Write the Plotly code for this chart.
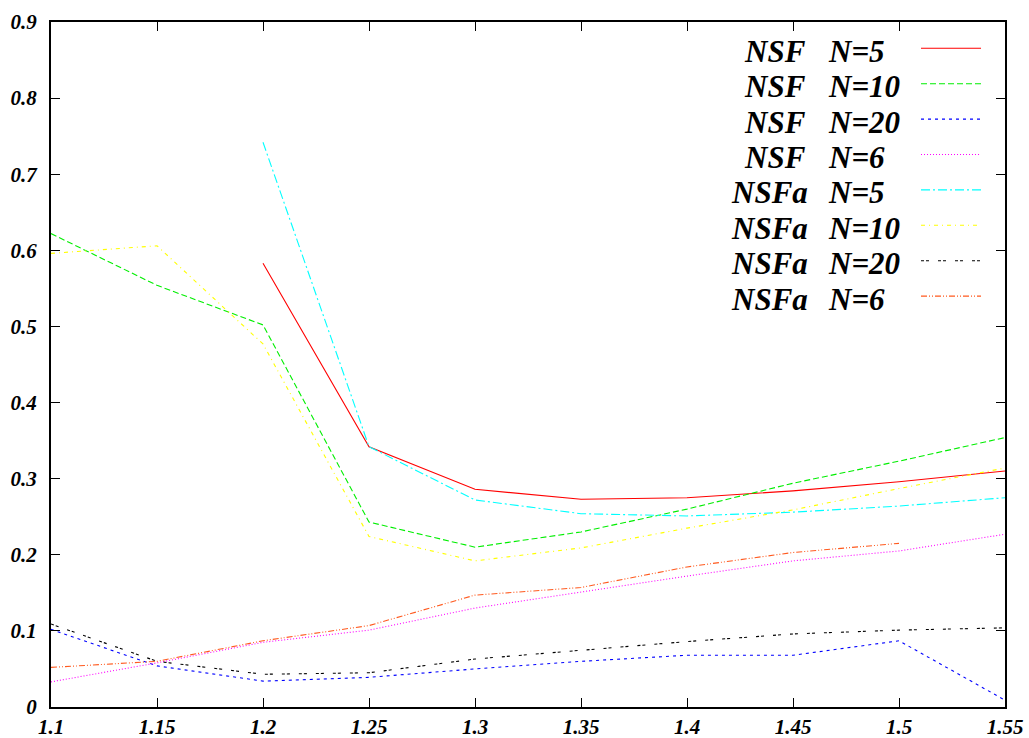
import plotly.graph_objects as go

# Shared abscissa for all curves
x_vals = [1.1, 1.15, 1.2, 1.25, 1.3, 1.35, 1.4, 1.45, 1.5, 1.55]

# NSF results
nsf_n5 = [None, None, 0.583, 0.342, 0.286, 0.273, 0.275, 0.284, 0.296, 0.310]
nsf_n10 = [0.622, 0.554, 0.502, 0.243, 0.210, 0.230, 0.260, 0.294, 0.323, 0.354]
nsf_n20 = [0.102, 0.054, 0.034, 0.039, 0.050, 0.060, 0.068, 0.068, 0.087, 0.009]
nsf_n6 = [0.033, 0.058, 0.085, 0.101, 0.130, 0.151, 0.172, 0.192, 0.205, 0.227]

# NSFa results
nsfa_n5 = [None, None, 0.742, 0.342, 0.272, 0.254, 0.251, 0.256, 0.264, 0.275]
nsfa_n10 = [0.596, 0.606, 0.477, 0.224, 0.192, 0.209, 0.235, 0.259, 0.287, 0.314]
nsfa_n20 = [0.109, 0.060, 0.043, 0.045, 0.063, 0.075, 0.086, 0.096, 0.101, 0.104]
nsfa_n6 = [0.052, 0.060, 0.087, 0.107, 0.147, 0.157, 0.184, 0.203, 0.215, None]

method_labels = ["NSF", "NSF", "NSF", "NSF", "NSFa", "NSFa", "NSFa", "NSFa"]
n_labels = ["N=5", "N=10", "N=20", "N=6", "N=5", "N=10", "N=20", "N=6"]

x_ticks = [1.1, 1.15, 1.2, 1.25, 1.3, 1.35, 1.4, 1.45, 1.5, 1.55]
x_tick_text = ["1.1", "1.15", "1.2", "1.25", "1.3", "1.35", "1.4", "1.45", "1.5", "1.55"]
y_ticks = [0, 0.1, 0.2, 0.3, 0.4, 0.5, 0.6, 0.7, 0.8, 0.9]
y_tick_text = ["0", "0.1", "0.2", "0.3", "0.4", "0.5", "0.6", "0.7", "0.8", "0.9"]

series = [nsf_n5, nsf_n10, nsf_n20, nsf_n6, nsfa_n5, nsfa_n10, nsfa_n20, nsfa_n6]
colors = ["#ff0000", "#00ee00", "#0000ff", "#ff00ff",
          "#00ffff", "#ffff00", "#000000", "#ff5a1f"]
dashes = ["solid", "6px,3px", "3px,4px", "1px,2px",
          "9px,3px,2px,3px", "4px,4px,1px,4px", "3px,2px,3px,9px",
          "6px,2px,1px,2px,1px,2px"]

SERIF = "Liberation Serif"
W, H = 1029, 738
L, R, T, B = 51, 24, 22, 31
plot_w = W - L - R
plot_h = H - T - B

fig = go.Figure()
for name_a, name_b, ys, c, d in zip(method_labels, n_labels, series, colors, dashes):
    fig.add_trace(go.Scatter(
        x=x_vals, y=ys, mode="lines", name=f"{name_a} {name_b}",
        line=dict(color=c, width=1.1, dash=d), connectgaps=False,
        showlegend=False, cliponaxis=False,
    ))

# Key: text on the left, line sample on the right
key_top = 48.3
key_step = 35.4
for i, (name_a, name_b, c, d) in enumerate(zip(method_labels, n_labels, colors, dashes)):
    py = key_top + i * key_step
    yp = (H - B - py) / plot_h
    fig.add_shape(type="line", xref="paper", yref="paper",
                  x0=(921 - L) / plot_w, x1=(981 - L) / plot_w, y0=yp, y1=yp,
                  line=dict(color=c, width=1.1, dash=d))
    left_px = 742 if name_a == "NSF" else 729
    for txt, px in ((name_a, left_px), (name_b, 826)):
        fig.add_annotation(
            xref="paper", yref="paper", x=(px - L) / plot_w, y=yp - 3 / plot_h,
            text=txt, showarrow=False, xanchor="left", yanchor="middle",
            font=dict(family=SERIF, size=31, color="black",
                      weight="bold", style="italic"),
        )

tick_font = dict(family=SERIF, size=21, color="black", weight="bold", style="italic")
axis_common = dict(
    showgrid=False, zeroline=False, showline=True, linecolor="black",
    linewidth=2, mirror="ticks", ticks="inside", ticklen=9, tickwidth=1.2,
    tickcolor="black", tickfont=tick_font, automargin=False,
)
fig.update_xaxes(range=[1.1, 1.55], tickvals=x_ticks, ticktext=x_tick_text,
                 ticklabelstandoff=0, **axis_common)
fig.update_yaxes(range=[0, 0.9], tickvals=y_ticks, ticktext=y_tick_text,
                 ticklabelstandoff=8, **axis_common)

fig.update_layout(
    width=W, height=H,
    margin=dict(l=L, r=R, t=T, b=B),
    paper_bgcolor="white", plot_bgcolor="white",
    showlegend=False,
)

fig.write_html("out.html")
